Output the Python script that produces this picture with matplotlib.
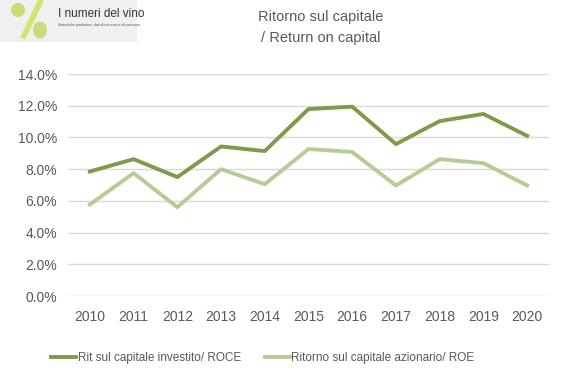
import matplotlib
matplotlib.use("Agg")
import matplotlib.pyplot as plt
from matplotlib.patches import Rectangle, Ellipse
from matplotlib.ticker import FuncFormatter

years = ["2010", "2011", "2012", "2013", "2014", "2015", "2016", "2017", "2018", "2019", "2020"]
roce = [7.85, 8.63, 7.5, 9.43, 9.14, 11.79, 11.94, 9.58, 11.03, 11.48, 10.1]
roe = [5.77, 7.75, 5.6, 8.0, 7.05, 9.27, 9.08, 6.97, 8.63, 8.38, 6.97]
labels = ["Rit sul capitale investito/ ROCE", "Ritorno sul capitale azionario/ ROE"]
yticks = [0, 2, 4, 6, 8, 10, 12, 14]

plt.rcParams['font.family'] = ['Liberation Sans', 'DejaVu Sans']
W, H = 571, 379
fig = plt.figure(figsize=(W/100, H/100), dpi=100)
ax = fig.add_axes([68/W, 1-296/H, (549-68)/W, (296-74)/H])

x = list(range(len(years)))
ax.plot(x, roce, color="#7d9b4b", lw=2.8, label=labels[0], solid_joinstyle='round')
ax.plot(x, roe, color="#b6cc95", lw=2.8, label=labels[1], solid_joinstyle='round')
ax.set_xlim(-0.5, len(years)-0.5)
ax.set_ylim(0, 14)
ax.set_yticks(yticks)
ax.yaxis.set_major_formatter(FuncFormatter(lambda v, p: f"{v:.1f}%"))
ax.set_xticks(x)
ax.set_xticklabels(years)
ax.grid(axis='y', color="#d9d9d9", lw=1)
ax.set_axisbelow(True)
for s in ax.spines.values():
    s.set_visible(False)
ax.tick_params(length=0, labelsize=10, colors="#595959", pad=8)
ax.tick_params(axis='x', pad=10)

fig.text(321/W, 1-17/H, "Ritorno sul capitale", ha='center', va='center', fontsize=10.5, color="#595959")
fig.text(321/W, 1-38/H, "/ Return on capital", ha='center', va='center', fontsize=10.5, color="#595959")

leg = fig.legend(loc='center', bbox_to_anchor=(263/W, 1-358/H), ncol=2, frameon=False,
                 fontsize=8.5, handlelength=2.1, handletextpad=0.15, columnspacing=2.0,
                 labelcolor="#595959")

# logo
fig.patches.append(Rectangle((0, 1-42/H), 137/W, 42/H, transform=fig.transFigure,
                             facecolor="#f0f0f0", edgecolor="none"))
fig.patches.append(Ellipse((18/W, 1-10/H), 14/W, 14/H, transform=fig.transFigure,
                           facecolor="#c8dd7a", edgecolor="none"))
fig.patches.append(Ellipse((40/W, 1-30/H), 14/W, 17/H, transform=fig.transFigure,
                           facecolor="#c8dd7a", edgecolor="none"))
fig.lines.append(plt.Line2D([24/W, 40/W], [1-36/H, 1-2/H], transform=fig.transFigure,
                            color="#d4e36a", lw=4))
fig.text(58/W, 1-14/H, "I numeri del vino", fontsize=8.5, color="#333333", va='center')
fig.text(58/W, 1-25/H, "Statistiche produttive, dati di mercato e di consumo.", fontsize=2.6,
         color="#555555", va='center')

fig.savefig("out.png", dpi=100, facecolor="white")
